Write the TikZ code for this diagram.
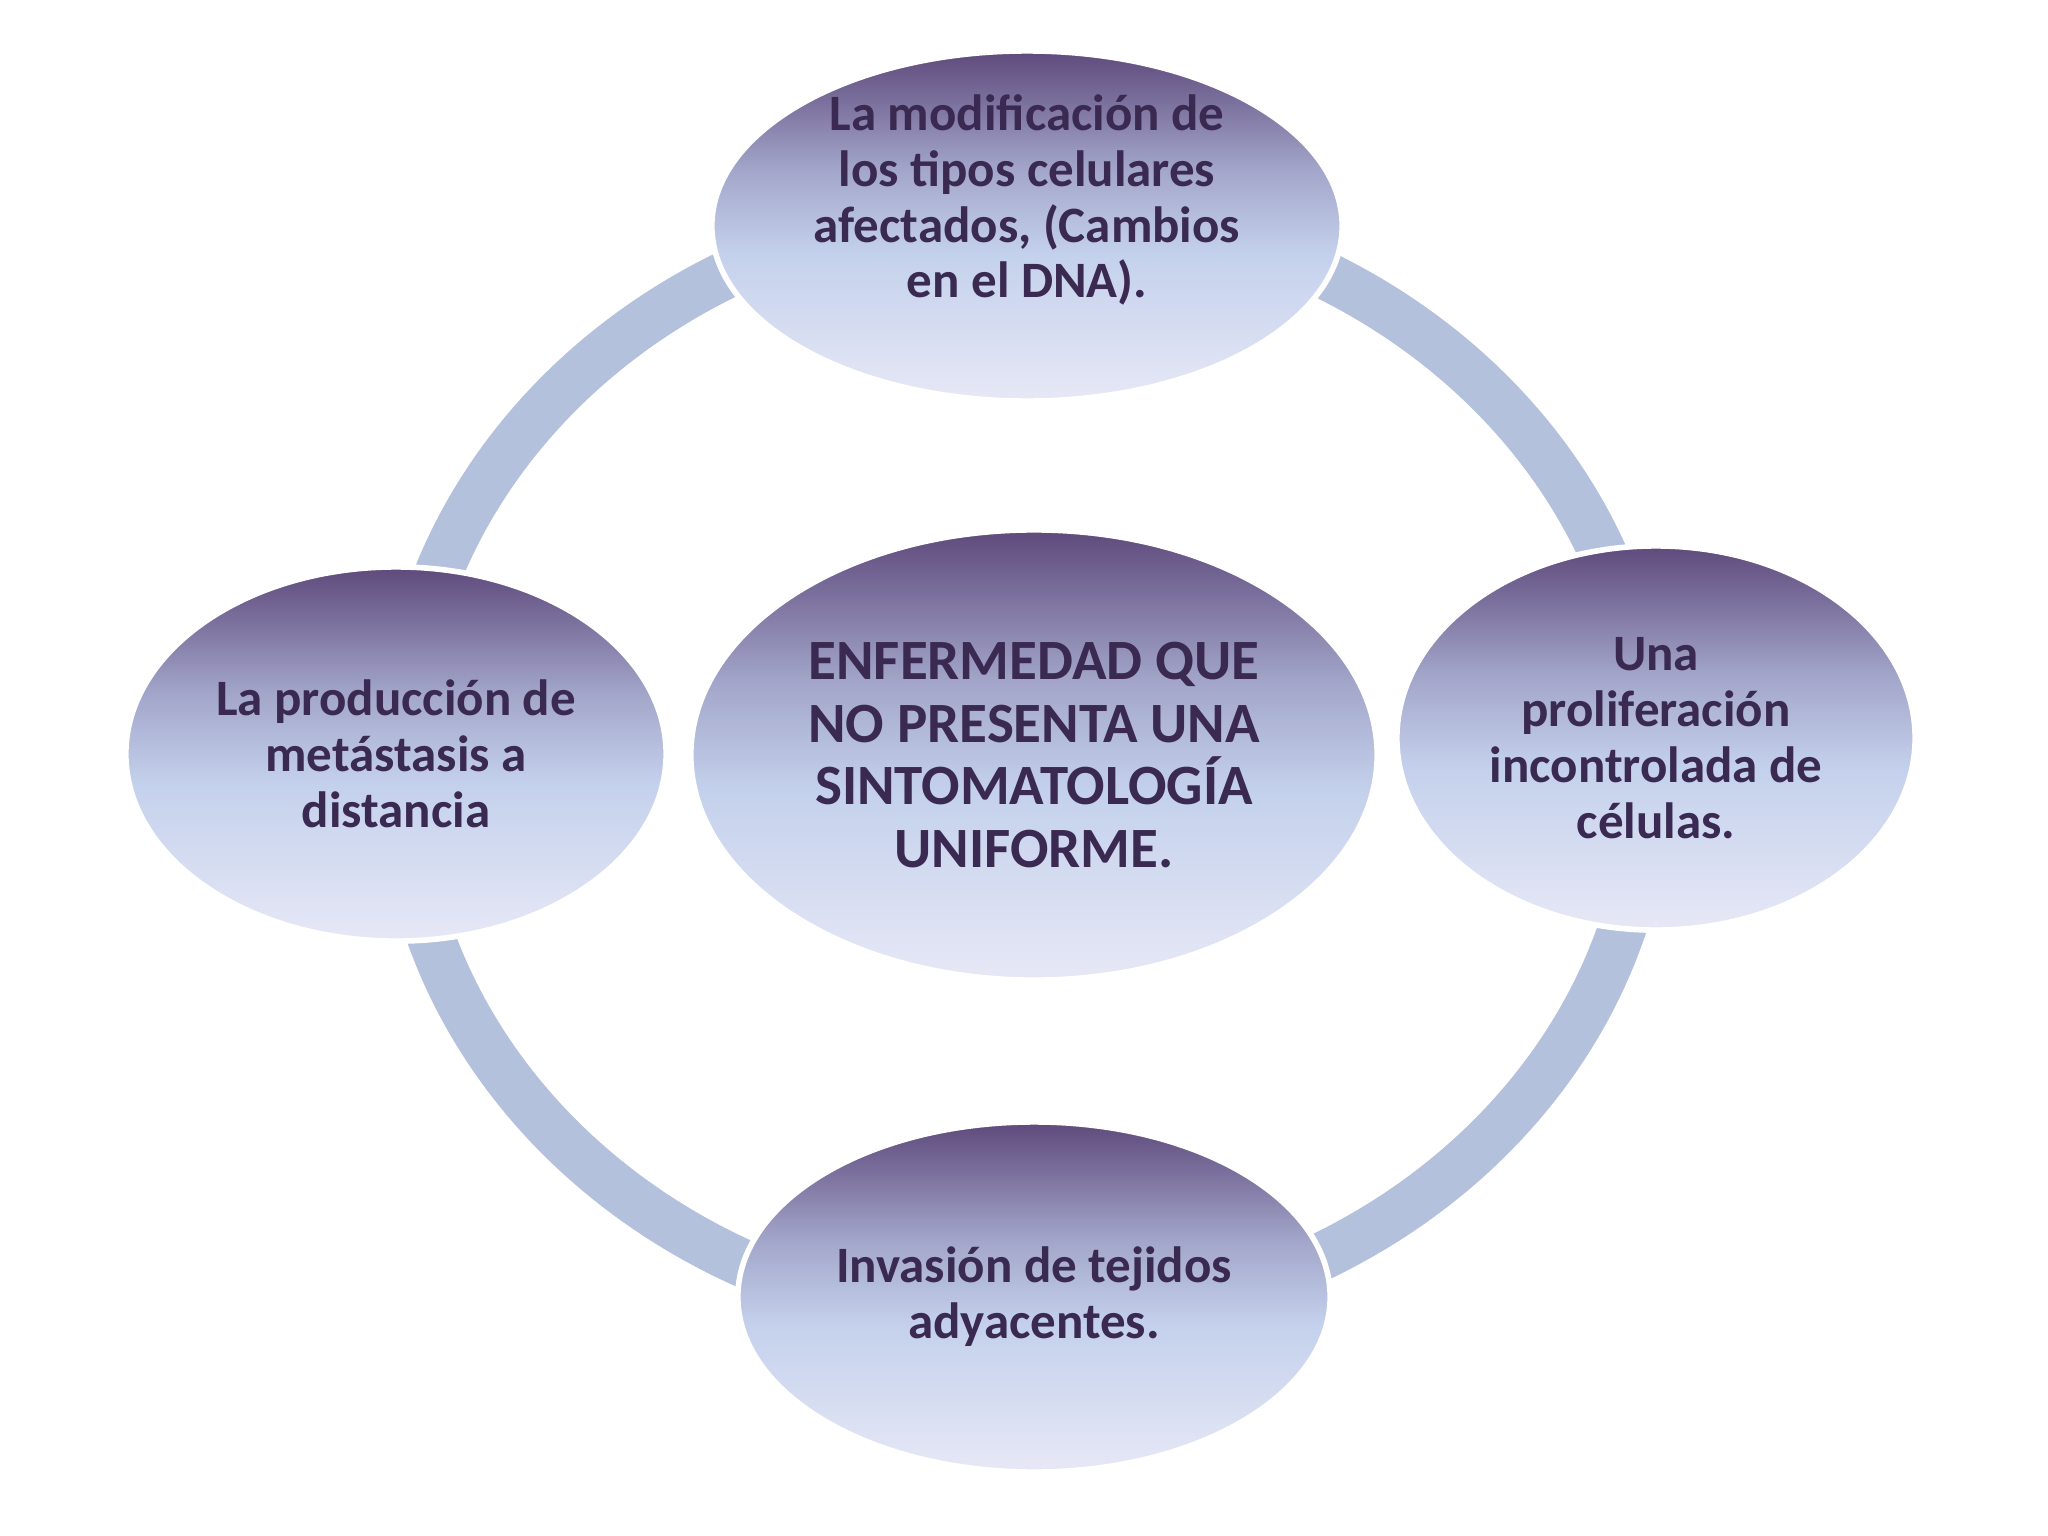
\documentclass[tikz,border=0pt]{standalone}
\usepackage{fontspec}
\setmainfont{Carlito}
\usetikzlibrary{shapes.geometric}
\definecolor{cTop}{HTML}{5E4A7B}
\definecolor{cUp}{HTML}{7A6F9C}
\definecolor{cMid}{HTML}{A3A6CA}
\definecolor{cLight}{HTML}{C4D1EC}
\definecolor{cBot}{HTML}{E7E8F6}
\definecolor{ringcol}{HTML}{B3C1DC}
\definecolor{txtcol}{HTML}{3A2A52}
\pgfdeclareverticalshading{bubbleshade}{100bp}{%
  color(0bp)=(cBot); color(25bp)=(cBot); color(46bp)=(cLight);
  color(58bp)=(cMid); color(68bp)=(cUp); color(75bp)=(cTop); color(100bp)=(cTop)}
\tikzset{
  bubble/.style={ellipse, shading=bubbleshade, draw=white, line width=1.6pt, inner sep=0pt},
  lbl/.style={align=center, text=txtcol, font=\fontsize{14.5pt}{15.9pt}\selectfont\bfseries},
  biglbl/.style={align=center, text=txtcol, font=\fontsize{16.2pt}{17.8pt}\selectfont\bfseries},
  ringline/.style={draw=ringcol, line width=0.48cm}
}
\begin{document}
\begin{tikzpicture}[x=0.01cm, y=-0.01cm]
\useasboundingbox[fill=white] (0,0) rectangle (2048,1536);
\coordinate (ringc) at (1025,765);
\draw[ringline] (ringc) ellipse [x radius=6.24cm, y radius=5.58cm];
\node[bubble, minimum width=6.30cm, minimum height=3.50cm] (top) at (1027,226) {};
\node[bubble, minimum width=5.40cm, minimum height=3.74cm] (left) at (396,754) {};
\node[bubble, minimum width=6.86cm, minimum height=4.50cm] (center) at (1034,755) {};
\node[bubble, minimum width=5.18cm, minimum height=3.84cm] (right) at (1656,738) {};
\node[bubble, minimum width=5.92cm, minimum height=3.50cm] (bottom) at (1034,1297) {};
\node[lbl] (toptxt) at (1027,200) {La modificación de\\los tipos celulares\\afectados, (Cambios\\en el DNA).};
\node[lbl] (lefttxt) at (396,754) {La producción de\\metástasis a\\distancia};
\node[biglbl] (centertxt) at (1034,755) {ENFERMEDAD QUE\\NO PRESENTA UNA\\SINTOMATOLOGÍA\\UNIFORME.};
\node[lbl] (righttxt) at (1656,738) {Una\\proliferación\\incontrolada de\\células.};
\node[lbl] (bottomtxt) at (1034,1297) {Invasión de tejidos\\adyacentes.};
\end{tikzpicture}
\end{document}
